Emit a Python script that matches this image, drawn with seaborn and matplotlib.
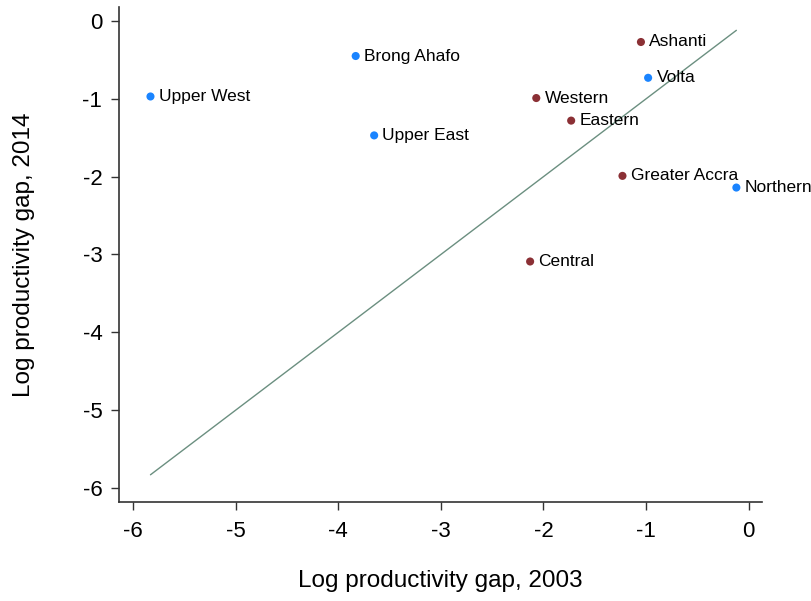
import pandas as pd
import matplotlib
matplotlib.use('Agg')
import matplotlib.pyplot as plt
import seaborn as sns

regions = ['Upper West', 'Brong Ahafo', 'Upper East', 'Ashanti', 'Volta',
           'Western', 'Eastern', 'Greater Accra', 'Northern', 'Central']
gap_2003 = [-5.83, -3.83, -3.65, -1.05, -0.98, -2.07, -1.73, -1.23, -0.12, -2.13]
gap_2014 = [-0.97, -0.45, -1.47, -0.27, -0.73, -0.99, -1.28, -1.99, -2.14, -3.09]
group = ['A', 'A', 'A', 'B', 'A', 'B', 'B', 'B', 'A', 'B']

df = pd.DataFrame({'region': regions, 'x': gap_2003, 'y': gap_2014, 'group': group})

sns.set_style('white')
plt.rcParams['font.family'] = ['Liberation Sans', 'DejaVu Sans']
plt.rcParams['axes.unicode_minus'] = False
plt.rcParams['text.color'] = 'black'
plt.rcParams['axes.labelcolor'] = 'black'
plt.rcParams['xtick.color'] = 'black'
plt.rcParams['ytick.color'] = 'black'

fig = plt.figure(figsize=(8.11, 6.01), dpi=100)
ax = fig.add_axes([0.1467, 0.1647, 0.7929, 0.8237])

# 45 degree line over range of x
lo, hi = df['x'].min(), df['x'].max()
line = pd.DataFrame({'x': [lo, hi], 'y': [lo, hi]})
sns.lineplot(data=line, x='x', y='y', color='#6b8f80', linewidth=1, ax=ax)

sns.scatterplot(data=df, x='x', y='y', hue='group',
                palette={'A': '#1a84ff', 'B': '#8b3035'},
                s=34, edgecolor='none', legend=False, ax=ax, zorder=3)

for _, r in df.iterrows():
    ax.annotate(r['region'], (r['x'], r['y']), xytext=(6, 0),
                textcoords='offset points', va='center', ha='left', fontsize=12.5)

ax.set_xlim(-6.137, 0.13)
ax.set_ylim(-6.18, 0.18)
ax.set_xticks([-6, -5, -4, -3, -2, -1, 0])
ax.set_yticks([-6, -5, -4, -3, -2, -1, 0])
ax.set_xlabel('Log productivity gap, 2003', fontsize=17.5, labelpad=20)
ax.set_ylabel('Log productivity gap, 2014', fontsize=17.5, labelpad=34)
ax.tick_params(axis='both', labelsize=16, length=6, width=1, color='#333333',
               direction='out', bottom=True, left=True)
ax.tick_params(axis='x', pad=8)
ax.tick_params(axis='y', pad=6)

for s in ['top', 'right']:
    ax.spines[s].set_visible(False)
for s in ['left', 'bottom']:
    ax.spines[s].set_color('#333333')
    ax.spines[s].set_linewidth(1.2)

fig.savefig('out.png', dpi=100)
